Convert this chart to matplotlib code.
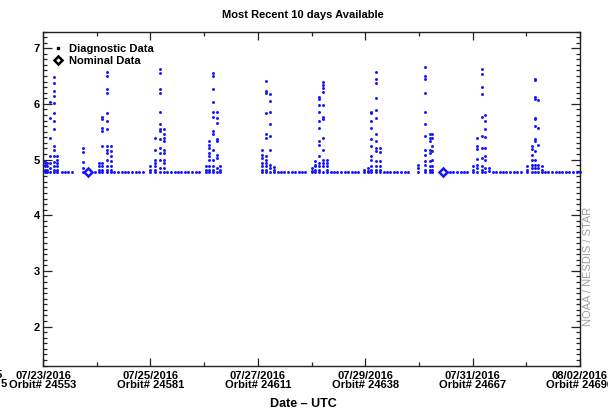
import matplotlib
matplotlib.use("Agg")
import matplotlib.pyplot as plt
from matplotlib.ticker import MultipleLocator, FixedLocator
from matplotlib.lines import Line2D

plt.rcParams['font.family'] = ['Liberation Sans', 'DejaVu Sans']

# Time axis: days since 07/23/2016 00:00 UTC
tick_days = [0, 2, 4, 6, 8, 10]
tick_dates = ["07/23/2016", "07/25/2016", "07/27/2016",
              "07/29/2016", "07/31/2016", "08/02/2016"]
tick_orbits = [24553, 24581, 24611, 24638, 24667, 24696]

# Diagnostic data, one column of values per orbit
diag_day = [0.037, 0.080, 0.130, 0.205, 0.266,
            0.750, 1.043, 1.093, 1.186, 1.261,
            1.993, 2.086, 2.179, 2.253,
            3.035, 3.097, 3.160, 3.235, 3.296,
            4.073, 4.153, 4.227, 4.302,
            5.004, 5.065, 5.145, 5.209, 5.283,
            5.983, 6.052, 6.108, 6.201, 6.276,
            6.989, 7.114, 7.207, 7.253,
            8.002, 8.076, 8.169, 8.231, 8.311,
            9.007, 9.101, 9.162, 9.223, 9.287]
diag_vals = [
    [4.97, 4.94, 4.88, 4.82, 4.77],
    [4.94, 4.88, 4.82, 4.77],
    [6.03, 5.75, 5.39, 5.06, 4.94, 4.85, 4.77],
    [6.48, 6.38, 6.24, 6.15, 6.02, 5.84, 5.69, 5.54, 5.25, 5.18, 5.06, 4.95, 4.88, 4.82, 4.77],
    [5.06, 5.00, 4.94, 4.88, 4.82, 4.77],
    [5.21, 5.13, 4.95, 4.85, 4.77],
    [4.94, 4.88, 4.82, 4.77],
    [5.77, 5.72, 5.57, 5.51, 5.24, 4.94, 4.88, 4.82, 4.77],
    [6.58, 6.50, 6.26, 6.19, 5.84, 5.69, 5.54, 5.24, 5.18, 5.12, 5.00, 4.88, 4.82, 4.77],
    [5.24, 5.15, 5.06, 4.97, 4.88, 4.82, 4.77],
    [4.88, 4.82, 4.77],
    [5.39, 5.18, 5.00, 4.94, 4.88, 4.82, 4.77],
    [6.62, 6.56, 6.26, 6.20, 5.86, 5.63, 5.54, 5.51, 5.36, 5.21, 5.12, 5.00, 4.85, 4.77],
    [5.54, 5.45, 5.39, 5.33, 5.18, 5.12, 5.00, 4.94, 4.85, 4.77],
    [4.88, 4.82, 4.77],
    [5.33, 5.27, 5.21, 5.12, 5.06, 5.00, 4.88, 4.82, 4.77],
    [6.55, 6.50, 6.26, 6.03, 5.86, 5.76, 5.51, 5.45, 5.18, 5.00, 4.88, 4.82, 4.77],
    [5.86, 5.75, 5.66, 5.36, 5.33, 5.09, 5.03, 4.85, 4.77],
    [4.88, 4.82, 4.77],
    [5.18, 5.09, 5.03, 4.94, 4.88, 4.82, 4.77],
    [6.41, 6.24, 6.19, 5.84, 5.45, 5.39, 5.06, 5.00, 4.94, 4.88, 4.82, 4.77],
    [6.18, 6.06, 5.85, 5.63, 5.43, 5.17, 4.91, 4.85, 4.77],
    [4.86, 4.82, 4.77],
    [4.85, 4.80, 4.77],
    [4.97, 4.91, 4.88, 4.82, 4.77],
    [6.13, 6.09, 5.98, 5.86, 5.69, 5.57, 5.33, 5.27, 5.06, 4.94, 4.88, 4.82, 4.77],
    [6.40, 6.34, 6.28, 6.22, 5.98, 5.77, 5.72, 5.39, 5.18, 5.00, 4.94, 4.88, 4.77],
    [4.99, 4.94, 4.88, 4.82, 4.77],
    [4.82, 4.77],
    [4.85, 4.80, 4.77],
    [5.86, 5.84, 5.69, 5.57, 5.36, 5.24, 5.06, 5.00, 4.88, 4.82, 4.77],
    [6.58, 6.44, 6.38, 6.10, 5.89, 5.75, 5.45, 5.33, 5.21, 5.15, 4.97, 4.88, 4.82, 4.77],
    [5.20, 5.14, 4.97, 4.88, 4.82, 4.77],
    [4.91, 4.85, 4.77],
    [6.67, 6.50, 6.44, 6.19, 5.86, 5.63, 5.42, 5.18, 5.09, 4.97, 4.91, 4.82, 4.77],
    [5.45, 5.39, 5.33, 5.18, 5.12, 4.97, 4.88, 4.82, 4.77],
    [5.45, 5.39, 5.24, 5.15, 5.00, 4.88, 4.82, 4.77],
    [4.88, 4.82, 4.77],
    [5.39, 5.25, 5.19, 5.01, 4.91, 4.85, 4.77],
    [6.62, 6.54, 6.31, 6.18, 5.77, 5.42, 5.21, 5.03, 4.88, 4.82, 4.77],
    [5.80, 5.69, 5.54, 5.41, 5.21, 5.06, 5.00, 4.85, 4.77],
    [4.85, 4.80],
    [4.88, 4.82, 4.77],
    [5.25, 5.19, 5.09, 5.00, 4.91, 4.85, 4.77],
    [6.44, 6.42, 6.13, 6.09, 5.75, 5.72, 5.60, 5.36, 5.33, 5.15, 5.00, 4.91, 4.85, 4.77],
    [6.07, 5.57, 5.27, 4.91, 4.85, 4.77],
    [4.88, 4.82, 4.77],
]

# Quiet orbits sitting on the baseline level
base_level = 4.77
base_day = [0.348, 0.410, 0.471, 0.534, 0.903, 0.968,
            1.331, 1.397, 1.462, 1.527, 1.592, 1.657, 1.723, 1.788, 1.853,
            2.318, 2.384, 2.449, 2.514, 2.579, 2.644, 2.709, 2.775, 2.840, 2.905,
            4.367, 4.432, 4.497, 4.562, 4.628, 4.693, 4.758, 4.823, 4.888,
            5.354, 5.419, 5.484, 5.549, 5.615, 5.680, 5.745, 5.810, 5.875,
            6.341, 6.406, 6.471, 6.536, 6.601, 6.667, 6.732, 6.797,
            7.514, 7.579, 7.644, 7.709, 7.775, 7.840, 7.905,
            8.371, 8.436, 8.501, 8.566, 8.631, 8.696, 8.762, 8.827, 8.892,
            9.348, 9.413, 9.479, 9.544, 9.609, 9.674, 9.739, 9.804, 9.870,
            9.935, 9.998]

# Nominal data
nominal_day = [0.844, 7.454]
nominal_val = [4.77, 4.77]

blue = (0.08, 0.08, 1.0)

fig = plt.figure(figsize=(6.08, 4.12), dpi=100)
ax = fig.add_axes([43 / 608, (412 - 365.5) / 412, (580 - 43) / 608, (365.5 - 31.5) / 412])

xs, ys = [], []
for d, vals in zip(diag_day, diag_vals):
    for v in vals:
        xs.append(d)
        ys.append(v)
xs += base_day
ys += [base_level] * len(base_day)

ax.scatter(xs, ys, s=4.5, color=blue, linewidths=0, zorder=2, clip_on=False)
ax.plot(nominal_day, nominal_val, ls='none', marker='D', ms=4.4, mfc='white',
        mec=blue, mew=1.8, zorder=3)

ax.set_xlim(0, 10)
ax.set_ylim(1.3, 7.3)

ax.xaxis.set_major_locator(FixedLocator(tick_days))
ax.xaxis.set_minor_locator(MultipleLocator(1))
ax.set_xticklabels([f"{d}\nOrbit# {o}" for d, o in zip(tick_dates, tick_orbits)],
                   fontsize=8, fontweight='bold', linespacing=0.85)
ax.yaxis.set_major_locator(MultipleLocator(1))
ax.yaxis.set_minor_locator(MultipleLocator(0.1))
for lab in ax.get_yticklabels():
    lab.set_fontsize(8)
    lab.set_fontweight('bold')

ax.tick_params(axis='x', which='major', direction='in', length=5.5, width=0.9,
               top=True, pad=4, colors='#222222', labelcolor='black')
ax.tick_params(axis='x', which='minor', direction='in', length=3.0, width=0.9,
               top=True, colors='#222222')
ax.tick_params(axis='y', which='major', direction='in', length=6.5, width=0.9,
               right=True, pad=2, colors='#222222', labelcolor='black')
ax.tick_params(axis='y', which='minor', direction='in', length=3.0, width=0.9,
               right=True, colors='#222222')
for sp in ax.spines.values():
    sp.set_linewidth(1.0)
    sp.set_color('#222222')

legend_handles = [
    Line2D([], [], ls='none', marker='s', ms=1.6, mfc='black', mec='black'),
    Line2D([], [], ls='none', marker='D', ms=4.2, mfc='white', mec='black', mew=1.8),
]
ax.legend(legend_handles, ["Diagnostic Data", "Nominal Data"], loc='upper left',
          bbox_to_anchor=(0.01, 0.975), frameon=False, handlelength=1.0,
          handletextpad=0.5, labelspacing=0.15, borderaxespad=0.0,
          prop={'size': 8, 'weight': 'bold'})

fig.text(303 / 608, (412 - 15) / 412, "Most Recent 10 days Available",
         ha='center', va='center', fontsize=8, fontweight='bold')
fig.text(303 / 608, (412 - 404) / 412, "Date \u2013 UTC",
         ha='center', va='center', fontsize=9, fontweight='bold')
fig.text(588 / 608, (412 - 266) / 412, "NOAA / NESDIS / STAR", rotation=90,
         ha='center', va='center', fontsize=8, color='#a0a0a0')
fig.text(2 / 608, (412 - 375) / 412, "5", ha='right', va='center',
         fontsize=8, fontweight='bold')
fig.text(7 / 608, (412 - 384) / 412, "5", ha='right', va='center',
         fontsize=8, fontweight='bold')

fig.savefig("out.png", dpi=100)
